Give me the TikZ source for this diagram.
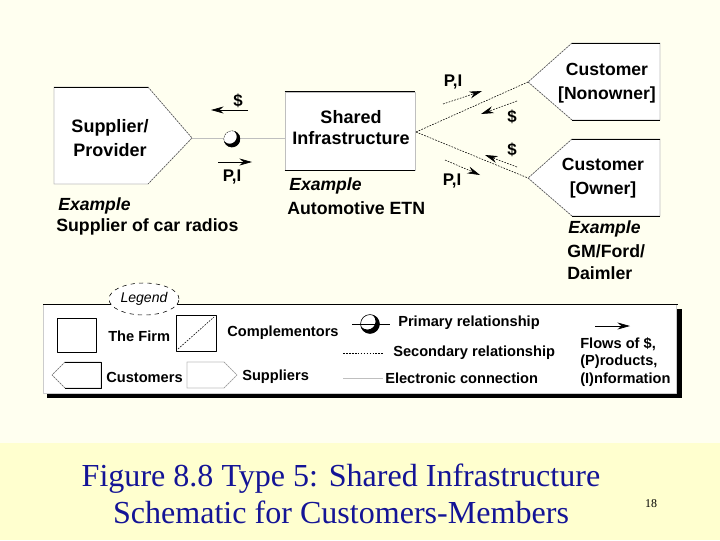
\documentclass[tikz,border=0pt]{standalone}
\usepackage{fontspec}
\setmainfont{Liberation Sans}
\newfontfamily\capfont{Liberation Serif}
\usetikzlibrary{arrows.meta,shapes.geometric}
\definecolor{pagebg}{HTML}{FFFFF0}
\definecolor{bandbg}{HTML}{FFFFCF}
\definecolor{capblue}{RGB}{20,20,150}
\tikzset{
  txt/.style={inner sep=0pt,font=\bfseries\fontsize{12.6}{15}\selectfont},
  extxt/.style={inner sep=0pt,anchor=west,font=\bfseries\itshape\fontsize{12.5}{15}\selectfont},
  flowlbl/.style={inner sep=0pt,font=\bfseries\fontsize{12}{13}\selectfont},
  legtxt/.style={inner sep=0pt,anchor=west,font=\bfseries\fontsize{10.4}{12}\selectfont},
  secline/.style={line width=0.4pt,dash pattern=on 1.2pt off 0.9pt},
  elecline/.style={line width=0.4pt,black!25},
  flowarrow/.style={->,line width=0.5pt},
  shapefill/.style={fill=white,draw=black!25,line width=0.4pt}
}
\begin{document}
\begin{tikzpicture}[line join=round,>={Stealth[length=9pt,width=5pt]},x=0.025cm,y=-0.025cm]
\def\custtip{528}\def\custcorner{572}\def\custright{660}
\fill[pagebg] (0,0) rectangle (720,443);
\fill[bandbg] (0,443) rectangle (720,540);
\filldraw[shapefill] (54,87)--(148,87)--(192,138)--(148,184)--(54,184)--cycle;
\draw (54,87)--(148,87);
\draw[secline,black!70] (148,87)--(192,138)--(148,184);
\coordinate (suptip) at (192,138);
\node[txt,align=center,font=\bfseries\fontsize{12.8}{16.5}\selectfont] (supplier) at (110,138) {Supplier/\\Provider};
\node[draw=black!25,fill=white,minimum width=130*0.025cm,minimum height=78*0.025cm,inner sep=0pt] (shared) at (350,131) {};
\draw (shared.north west)--(shared.north east) (shared.south west)--(shared.south east);
\node[txt,align=center,font=\bfseries\fontsize{12.8}{15}\selectfont] (sharedtxt) at (351,128) {Shared\\Infrastructure};
\filldraw[shapefill] (\custright,43)--(\custcorner,43)--(\custtip,82)--(\custcorner,120)--(\custright,120)--cycle;
\draw (\custright,43)--(\custcorner,43) (\custcorner,120)--(\custright,120);
\draw[secline,black!70] (\custcorner,43)--(\custtip,82)--(\custcorner,120);
\coordinate (nontip) at (\custtip,82);
\node[txt,align=center,font=\bfseries\fontsize{12.5}{17.5}\selectfont] (nonowner) at (607,83) {Customer\\{[Nonowner]}};
\filldraw[shapefill] (\custright,139)--(\custcorner,139)--(\custtip,178)--(\custcorner,216)--(\custright,216)--cycle;
\draw (\custright,139)--(\custcorner,139) (\custcorner,216)--(\custright,216);
\draw[secline,black!70] (\custcorner,139)--(\custtip,178)--(\custcorner,216);
\coordinate (owntip) at (\custtip,178);
\node[txt,align=center,font=\bfseries\fontsize{12.5}{17.5}\selectfont] (owner) at (603,178) {Customer\\{[Owner]}};
\coordinate (prim) at (232,139);
\coordinate (sharedin) at (285,138);
\draw[elecline] (suptip)--(sharedin);
\fill[white] (prim) circle (5.8pt);
\draw[black!60,line width=0.4pt,dash pattern=on 1pt off 1pt] (prim) circle (5.8pt);
\begin{scope}
\clip (prim) circle (5.9pt);
\fill[even odd rule] (prim) circle (5.9pt) ([shift={(135:2.3pt)}]prim) circle (5pt);
\end{scope}
\coordinate (sharedout) at (416,132);
\draw[secline] (sharedout)--(nontip);
\draw[secline] (sharedout)--(owntip);
\coordinate (dolAs) at (248,110);\coordinate (dolAe) at (211,110);
\coordinate (piAs) at (218,162);\coordinate (piAe) at (252,162);
\draw[flowarrow] (dolAs)--(dolAe);
\draw[flowarrow] (piAs)--(piAe);
\node[flowlbl] (dolA) at (238,101) {\$};
\node[flowlbl] (piA) at (232,177) {P,I};
\coordinate (piBs) at (443,104);\coordinate (piBe) at (482,91);
\coordinate (dolBs) at (517,101);\coordinate (dolBe) at (481,114);
\coordinate (dolCs) at (517,167);\coordinate (dolCe) at (485,155);
\coordinate (piCs) at (445,160);\coordinate (piCe) at (480,175);
\draw[flowarrow,secline] (piBs)--(piBe);
\draw[flowarrow,secline] (dolBs)--(dolBe);
\draw[flowarrow,secline] (dolCs)--(dolCe);
\draw[flowarrow,secline] (piCs)--(piCe);
\node[flowlbl] (piB) at (453,82) {P,I};
\node[flowlbl] (dolB) at (512,117) {\$};
\node[flowlbl] (dolC) at (512,150) {\$};
\node[flowlbl] (piC) at (452,181) {P,I};
\node[extxt] (exsup) at (58,206) {Example};
\node[txt,anchor=west] (exsuptxt) at (56,227) {Supplier of car radios};
\node[extxt] (exshared) at (289,186) {Example};
\node[txt,anchor=west] (exsharedtxt) at (287,208) {Automotive ETN};
\node[extxt] (excust) at (568,229) {Example};
\node[txt,anchor=west,align=left,font=\bfseries\fontsize{12.6}{15.6}\selectfont] (excusttxt) at (567,262) {GM/Ford/\\Daimler};
\fill (47,393) rectangle (682,398);
\fill (676,309) rectangle (682,398);
\filldraw[fill=white,draw=black!20] (43,304) rectangle (676,393);
\draw (43,304)--(678,304);
\node[draw,dashed,fill=white,ellipse,minimum width=70*0.025cm,minimum height=32*0.025cm,inner sep=0pt,font=\itshape\fontsize{10}{11}\selectfont] (legend) at (144,299) {Legend};
\draw[line width=0.4pt] (57,318) rectangle (96,352);
\node[legtxt] (firm) at (108,336) {The Firm};
\draw[line width=0.4pt] (176,315) rectangle (216,351);
\draw[secline] (178,349)--(214,317);
\node[legtxt] (compl) at (227,333) {Complementors};
\filldraw[shapefill] (101,362)--(65,362)--(52,375)--(65,388)--(101,388)--cycle;
\draw (65,362)--(101,362)--(101,388)--(65,388);
\draw[secline,black!60] (65,362)--(52,375)--(65,388);
\node[legtxt] (cust) at (106,377) {Customers};
\filldraw[shapefill] (187,362)--(224,362)--(237,375)--(224,388)--(187,388)--cycle;
\draw[secline,black!40] (224,362)--(237,375)--(224,388);
\node[legtxt] (supp) at (242,377) {Suppliers};
\coordinate (lprim) at (370,324);
\draw[line width=0.5pt] (352,324)--(390,324);
\draw[line width=0.4pt] (lprim) circle (6.7pt);
\begin{scope}
\clip (lprim) circle (6.8pt);
\fill[even odd rule] (lprim) circle (6.8pt) ([shift={(135:2.6pt)}]lprim) circle (5.8pt);
\end{scope}
\node[legtxt] (primary) at (398,323) {Primary relationship};
\coordinate (lsecA) at (343,353);\coordinate (lsecB) at (383,353);
\draw[secline] (lsecA)--(lsecB);
\node[legtxt] (secondary) at (393,353) {Secondary relationship};
\coordinate (lelecA) at (343,378);\coordinate (lelecB) at (383,378);
\draw[elecline] (lelecA)--(lelecB);
\node[legtxt] (electronic) at (385,378) {Electronic connection};
\coordinate (lflowA) at (595,326);\coordinate (lflowB) at (630,326);
\draw[flowarrow] (lflowA)--(lflowB);
\node[legtxt,align=left,font=\bfseries\fontsize{10.4}{12.3}\selectfont] (flows) at (580,362) {Flows of \$,\\(P)roducts,\\(I)nformation};
\node[inner sep=0pt,text=capblue,align=center,font=\capfont\fontsize{22.8}{26.5}\selectfont] (caption) at (341,494) {Figure 8.8 Type 5: Shared Infrastructure\\Schematic for Customers-Members};
\node[inner sep=0pt,font=\capfont\fontsize{8.5}{10}\selectfont] (pagenum) at (651,504) {18};
\end{tikzpicture}
\end{document}
